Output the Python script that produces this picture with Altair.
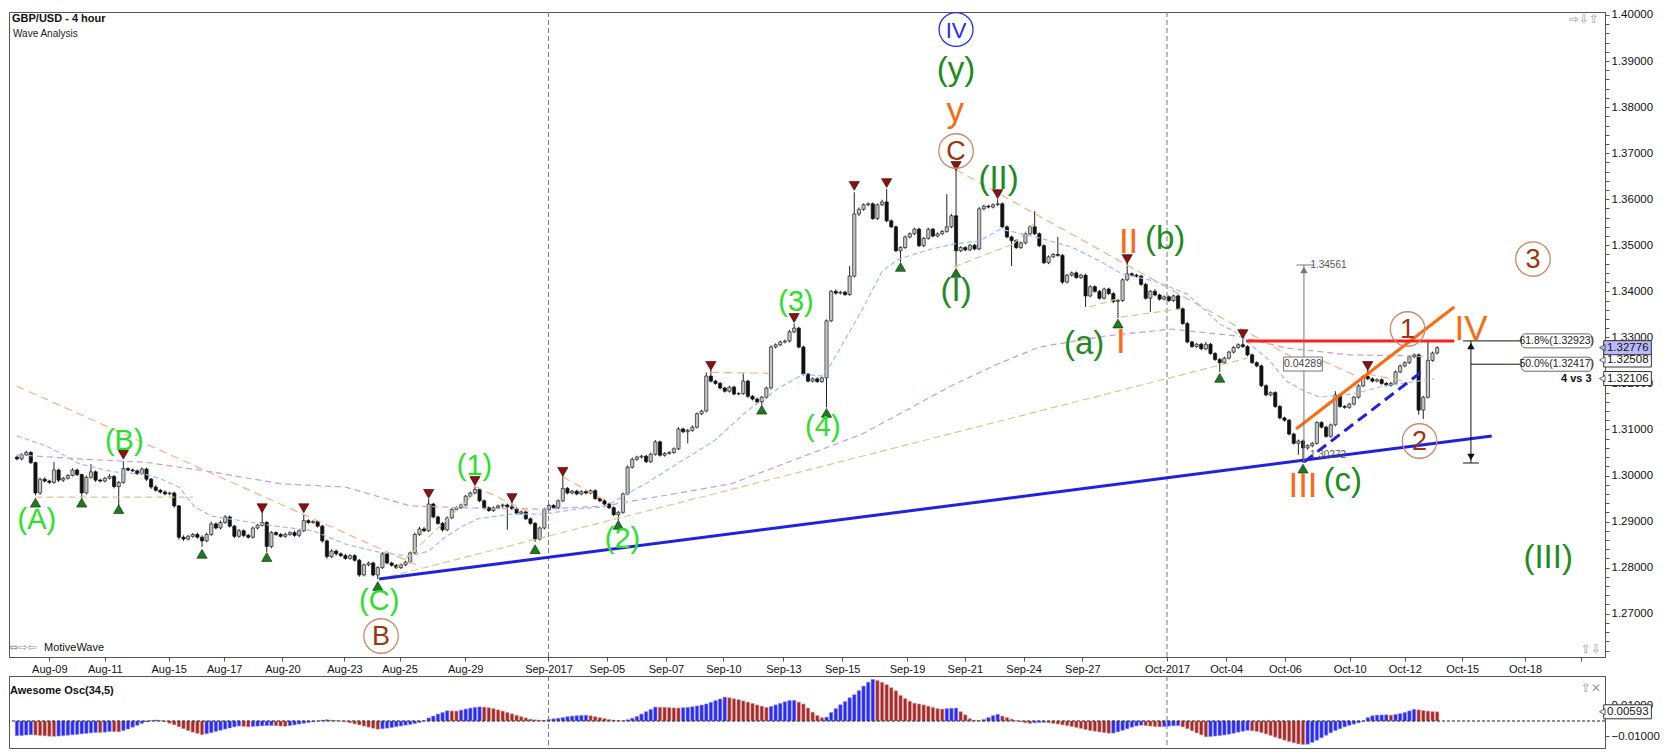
import altair as alt
import pandas as pd

FONT = "Liberation Sans"

# ---------------- candles (prices in pips, 1 pip = 0.0001) ----------------
first_open_pips = 13040
close_pips = [
 13036,13045,13050,13028,12962,12992,12988,12985,13012,12990,
 12994,13000,13012,13002,12962,12996,13008,12990,12988,12994,
 12998,12976,12985,13015,13012,13010,13004,13014,12992,12975,
 12968,12964,12960,12962,12934,12866,12862,12868,12872,12866,
 12858,12872,12895,12886,12898,12910,12890,12868,12880,12870,
 12866,12886,12892,12898,12846,12876,12872,12868,12872,12876,
 12870,12880,12902,12898,12900,12890,12858,12824,12836,12830,
 12826,12820,12826,12816,12784,12806,12810,12784,12800,12830,
 12810,12805,12800,12806,12812,12832,12872,12884,12880,12938,
 12910,12896,12882,12908,12926,12930,12936,12955,12962,12970,
 12945,12930,12924,12930,12934,12936,12932,12928,12918,12921,
 12906,12896,12862,12886,12926,12935,12930,12945,12972,12962,
 12966,12960,12965,12962,12967,12950,12945,12938,12930,12915,
 12920,12960,13018,13035,13040,13042,13030,13046,13073,13044,
 13048,13050,13058,13101,13095,13098,13105,13134,13140,13216,
 13205,13200,13190,13183,13192,13177,13178,13205,13172,13166,
 13160,13170,13190,13279,13284,13290,13292,13312,13320,13279,
 13220,13205,13210,13204,13212,13336,13400,13396,13398,13393,
 13433,13568,13578,13588,13590,13558,13588,13594,13553,13540,
 13488,13495,13518,13525,13535,13499,13515,13535,13520,13525,
 13530,13540,13564,13488,13495,13490,13500,13492,13579,13585,
 13583,13588,13590,13540,13518,13510,13495,13505,13525,13540,
 13525,13499,13462,13475,13480,13478,13420,13435,13440,13430,
 13435,13390,13410,13400,13385,13405,13395,13378,13380,13425,
 13438,13435,13433,13415,13385,13400,13392,13383,13388,13380,
 13390,13362,13330,13290,13280,13285,13275,13285,13265,13252,
 13245,13255,13268,13278,13284,13280,13262,13245,13238,13195,
 13175,13180,13150,13125,13120,13090,13070,13075,13060,13065,
 13070,13115,13105,13085,13110,13175,13150,13148,13155,13170,
 13195,13215,13210,13205,13208,13200,13196,13200,13225,13238,
 13245,13258,13262,13142,13170,13250,13266,13277.6]
wick_up = [
 3,3,4,3,2,3,4,3,17,3, 3,3,4,3,2,4,17,3,3,3, 5,3,3,16,3,3,3,4,3,3,
 4,3,4,3,3,2,4,3,3,4, 4,4,5,3,4,4,3,3,4,3, 3,3,3,25,3,3,3,3,4,3,
 4,3,14,3,3,3,3,3,4,3, 3,4,3,3,3,3,3,3,3,4, 3,3,3,3,3,3,4,5,4,11,
 3,3,3,3,3,3,3,3,3,7, 3,3,3,3,3,3,3,13,3,3, 3,3,3,3,4,3,3,3,31,3,
 3,3,3,3,3,3,3,3,3,3, 3,3,4,4,3,3,3,4,4,3, 3,3,3,4,3,3,4,3,3,8,
 14,3,3,3,3,3,3,17,3,3, 3,3,3,4,3,3,3,4,10,3, 3,3,3,3,3,3,3,4,3,3,
 22,47,4,3,3,3,3,5,28,3, 3,3,3,3,3,3,3,3,3,3, 3,71,4,101,3,3,3,3,4,3,
 3,3,10,3,3,3,3,3,3,3, 34,3,3,3,3,38,3,3,3,3, 3,3,3,3,3,3,3,3,3,3,
 24,3,3,3,3,3,5,3,3,3, 3,3,3,3,3,3,3,5,3,3, 3,3,3,3,3,12,3,3,3,3,
 3,3,3,3,3,3,3,3,3,3, 3,3,3,3,3,8,3,3,3,3, 3,3,15,3,3,3,3,3,3,3,
 3,3,3,3,3,40,3,3]
wick_dn = [
 3,3,2,3,5,4,3,3,3,4, 4,3,2,3,12,3,3,4,3,3, 3,4,42,3,3,2,3,3,4,4,
 3,3,3,3,4,5,4,3,3,3, 13,3,3,3,3,3,3,4,3,4, 3,3,3,3,12,4,3,3,3,3,
 3,4,3,3,3,3,4,5,3,4, 3,3,3,3,4,3,3,3,9,3, 3,3,3,3,3,3,3,3,3,3,
 3,3,4,3,3,3,3,3,3,3, 3,4,3,3,3,4,50,3,3,3, 3,3,6,3,3,3,3,3,3,3,
 3,3,3,3,3,3,3,3,3,3, 12,3,3,3,3,3,3,3,3,3, 3,3,3,3,3,25,3,3,3,3,
 3,3,3,3,3,3,3,3,3,3, 3,7,3,3,3,3,3,3,3,3, 3,3,3,3,3,64,3,3,3,3,
 3,3,5,3,3,3,3,3,3,3, 3,24,3,3,3,3,3,3,3,3, 3,3,3,36,3,3,3,3,3,3,
 3,3,3,3,3,55,3,3,3,3, 3,3,3,3,3,3,4,3,3,3, 3,24,3,3,3,3,3,4,36,3,
 3,3,3,3,3,30,3,3,3,3, 3,3,3,3,3,3,3,3,3,3, 20,3,3,3,3,3,3,3,3,3,
 3,3,3,3,3,3,3,25,33,4, 4,3,3,3,3,3,3,3,3,3, 3,3,3,3,3,3,3,3,3,3,
 3,3,3,10,19,3,3,3]
# Awesome Oscillator (34,5), units of 0.0001
ao_e4 = [
 -95,-93,-91,-89,-91,-94,-96,-98,-99,-97, -95,-92,-89,-86,-83,-80,-77,-74,-75,-72,
 -68,-69,-70,-62,-52,-40,-28,-16,-6,2, 6,3,-5,-15,-25,-38,-50,-62,-72,-80,
 -89,-82,-75,-67,-60,-52,-45,-38,-32,-35, -38,-35,-33,-31,-30,-29,-31,-33,-34,-30,
 -25,-20,-15,-10,-5,0,5,8,6,3, 0,-5,-12,-19,-26,-33,-40,-47,-53,-50,
 -46,-42,-37,-32,-27,-22,-17,-10,2,20, 32,45,55,66,65,64,70,77,83,88,
 91,90,86,80,72,64,55,46,37,28, 20,12,8,5,4,10,14,18,22,28,
 32,34,36,37,34,28,22,16,10,6, 3,2,8,18,30,45,60,75,90,89,
 88,87,85,84,86,88,92,97,103,110, 120,132,142,154,150,144,138,130,122,114,
 104,96,88,94,104,114,124,132,133,122, 110,84,57,36,21,25,55,80,105,125,
 150,170,196,225,250,268,262,250,235,215, 195,165,145,128,115,110,104,96,88,80,
 77,80,82,83,60,40,15,5,3,10, 22,35,43,32,22,12,2,-5,-12,-16,
 -12,-10,-9,-12,-16,-20,-25,-30,-36,-42, -48,-55,-61,-66,-71,-75,-79,-78,-70,-60,
 -50,-40,-32,-27,-30,-33,-36,-38,-36,-33, -31,-30,-38,-50,-63,-77,-90,-102,-100,-97,
 -94,-90,-85,-79,-72,-66,-60,-63,-68,-75, -84,-94,-104,-114,-124,-133,-141,-148,-152,-150,
 -138,-124,-108,-92,-76,-62,-50,-38,-28,-20, -12,-3,22,34,38,39,40,38,42,48,
 55,65,75,72,68,64,61,59]

# ---------------- axis ticks (bar index positions) ----------------
date_tick_pos = [7.0, 19.0, 32.8, 44.8, 57.4, 70.8, 82.7, 96.9, 114.9, 127.5, 140.3, 152.7, 165.7,
                 178.4, 192.4, 204.9, 217.6, 230.3, 248.6, 261.4, 274.1, 288.1, 300.0, 312.4, 326.0, 338.0]
date_tick_lab = ['Aug-09', 'Aug-11', 'Aug-15', 'Aug-17', 'Aug-20', 'Aug-23', 'Aug-25', 'Aug-29', 'Sep-2017',
                 'Sep-05', 'Sep-07', 'Sep-10', 'Sep-13', 'Sep-15', 'Sep-19', 'Sep-21', 'Sep-24', 'Sep-27',
                 'Oct-2017', 'Oct-04', 'Oct-06', 'Oct-10', 'Oct-12', 'Oct-15', 'Oct-18', '']
price_tick_vals = [round(1.262 + 0.002 * k, 3) for k in range(70)]
osc_tick_vals = [-0.01, 0.01]

# ---------------- moving averages ----------------
ma_fast_i = [0, 6.4, 13.6, 20.7, 27.7, 31.3, 35, 38.4, 42, 49, 56, 64, 71, 78, 85, 89, 92.5, 96, 99.6, 106.6,
             113.8, 121, 127, 136.5, 143.6, 150.7, 157.8, 165, 170, 174, 176, 179, 183, 187, 190.6, 197.7,
             202.6, 208, 212.6, 215.4, 221, 228, 234, 238.8, 246, 253, 260, 263.7, 270.8, 274.4, 278, 281.6,
             288.7, 295.7, 306.4]
ma_fast_p = [1.3086, 1.3064, 1.3025, 1.3008, 1.3003, 1.2992, 1.2975, 1.2932, 1.2912, 1.2901, 1.2890, 1.2880,
             1.2851, 1.2834, 1.2825, 1.2836, 1.2866, 1.2888, 1.2906, 1.2916, 1.2916, 1.2927, 1.2932, 1.2986,
             1.3031, 1.3075, 1.3140, 1.3192, 1.3220, 1.3216, 1.3242, 1.3295, 1.3365, 1.3444, 1.3470, 1.3492,
             1.3503, 1.3509, 1.3535, 1.3529, 1.3516, 1.3496, 1.3466, 1.3438, 1.3422, 1.3394, 1.3329, 1.3310,
             1.3249, 1.3205, 1.3185, 1.3170, 1.3177, 1.3195, 1.3210]
ma_slow_i = [0, 13.6, 27.7, 42, 57, 71, 85, 99.6, 114, 127, 154.4, 182.7, 191, 202, 212, 221, 235.4, 249.5,
             263.7, 274.4, 288, 300.6, 307]
ma_slow_p = [1.3045, 1.3036, 1.3029, 1.3008, 1.2982, 1.2975, 1.2934, 1.2929, 1.2927, 1.2934, 1.2982, 1.3090,
             1.3135, 1.3195, 1.3242, 1.3279, 1.3303, 1.3318, 1.3303, 1.3277, 1.3262, 1.3260, 1.3256]

# ---------------- drawn lines: (start bar, start price, end bar, end price) ----------------
khaki_seg = [(4, 1.2953, 38, 1.2953), (78.3, 1.2775, 266, 1.3255), (82, 1.2800, 99, 1.2962),
             (202.6, 1.3453, 215.4, 1.3503), (215.4, 1.3503, 220.5, 1.3553),
             (231.8, 1.3366, 237.7, 1.3383), (238.6, 1.3344, 251.6, 1.3362)]
peach_seg = [(0, 1.3194, 87.4, 1.2801), (98.9, 1.2977, 111.7, 1.2916), (118, 1.2997, 127.3, 1.2945),
             (150, 1.3224, 162.5, 1.3222), (203, 1.3664, 276, 1.3255), (282.3, 1.3249, 290, 1.3214),
             (292, 1.3220, 300, 1.3205)]
blue_solid_seg = [(78.3, 1.27752, 318.8, 1.30858)]
blue_dash_seg = [(278.2, 1.30293, 303.6, 1.32248)]
orange_seg = [(276.5, 1.31010, 310.7, 1.33659)]
red_seg = [(265.7, 1.32923, 310.7, 1.32923)]
fib_seg = [(312.6, 1.32923, 325.2, 1.32923), (314.3, 1.32417, 325.2, 1.32417),
           (314.3, 1.30272, 314.3, 1.32923), (312.6, 1.30272, 316.0, 1.30272)]
measure_seg = [(278.2, 1.30272, 278.2, 1.34571), (276.6, 1.34571, 280.4, 1.34571)]

# ---------------- pivot markers ----------------
red_tri_i = [23, 53, 62, 89, 99, 107, 118, 150, 168, 181, 188, 203, 212, 240, 265, 292]
red_tri_p = [1.3045, 1.2929, 1.2929, 1.2960, 1.2988, 1.2951, 1.3008, 1.3238, 1.3342, 1.3629, 1.3635,
             1.3672, 1.3611, 1.3470, 1.3307, 1.3238]
green_tri_i = [4, 14, 22, 40, 54, 78, 112, 130, 161, 175, 191, 203, 238, 260, 278]
green_tri_p = [1.2941, 1.2941, 1.2927, 1.2830, 1.2823, 1.2760, 1.2840, 1.2893, 1.3143, 1.3136, 1.3453,
               1.3440, 1.3330, 1.3212, 1.3015]

# ---------------- wave labels ----------------
BRIGHT, DARK, ORANGE = '#2ae02a', '#1e8c1e', '#ff6a10'
wave_text = ['(A)', '(B)', '(C)', '(1)', '(2)', '(3)', '(4)',
             '(y)', '(II)', '(I)', '(b)', '(a)', '(c)', '(III)',
             'y', 'II', 'I', 'III', 'IV']
wave_i = [4.3, 23.2, 78.3, 98.9, 130.9, 168.4, 174.2,
          203.0, 212.2, 203.0, 248.2, 230.7, 286.6, 331.0,
          202.8, 240.3, 238.6, 278.0, 314.3]
wave_p = [1.2903, 1.3075, 1.2728, 1.3021, 1.2862, 1.3377, 1.3105,
          1.3881, 1.3644, 1.3401, 1.3514, 1.3286, 1.2988, 1.2821,
          1.3792, 1.3507, 1.3290, 1.2977, 1.3318]
wave_col = [BRIGHT] * 7 + [DARK] * 7 + [ORANGE] * 5
wave_fs = [29] * 7 + [33] * 7 + [35] * 5
circ_text = ['C', 'B', '1', '2', '3']
circ_i = [203.0, 78.7, 300.6, 303.2, 327.7]
circ_p = [1.37047, 1.26515, 1.33181, 1.30749, 1.34701]
blue_circ_text, blue_circ_i, blue_circ_p = ['IV'], [203.0], [1.39685]

# ---------------- price tags / boxes ----------------
tag_p = [1.32106, 1.32508, 1.32776]
tag_fill = ['#ffffff', '#ffffff', '#b7baf7']
fib_box_p = [1.32923, 1.32417]
fib_box_lab = ['61.8%(1.32923)', '50.0%(1.32417)']
osc_tag_val = [0.00593]

# ======================================================================
n = min(len(close_pips), len(wick_up), len(wick_dn), len(ao_e4))
opens = [first_open_pips] + close_pips[:n - 1]
rows, prev = [], None
for k in range(n):
    o, c = opens[k], close_pips[k]
    ao = ao_e4[k] / 1e4
    rows.append({'i': k, 'open': o / 1e4, 'close': c / 1e4,
                 'high': (max(o, c) + wick_up[k]) / 1e4, 'low': (min(o, c) - wick_dn[k]) / 1e4,
                 'up': bool(c >= o), 'ao': ao, 'zero': 0.0,
                 'rising': True if prev is None else bool(ao >= prev)})
    prev = ao
bars = pd.DataFrame(rows)

W, H_MAIN, H_OSC = 1596, 645, 72
xsc = alt.Scale(domain=[-0.64, 342.2], nice=False, zero=False)
ysc = alt.Scale(domain=[1.26059, 1.400651], nice=False, zero=False)
osc_sc = alt.Scale(domain=[-0.01742, 0.02903], nice=False, zero=False)
PX = (1.400651 - 1.26059) / H_MAIN  # price per pixel
OPX = (0.02903 + 0.01742) / H_OSC

pos_js = '[' + ','.join(str(v) for v in date_tick_pos) + ']'
lab_js = '[' + ','.join("'" + s + "'" for s in date_tick_lab) + ']'
x_axis = alt.Axis(values=date_tick_pos, labelExpr=lab_js + '[indexof(' + pos_js + ', datum.value)]',
                  title=None, grid=False, tickSize=4, labelFontSize=11, labelPadding=2, labelFont=FONT,
                  labelColor='#111', labelOverlap=False, labelBound=False, labelFlush=False,
                  domainColor='#555', tickColor='#555')
y_axis = alt.Axis(orient='right', values=price_tick_vals,
                  labelExpr="abs(datum.value*100 - round(datum.value*100)) < 0.01 ? format(datum.value, '.5f') : ''",
                  title=None, grid=False, tickSize=4, labelFontSize=11.5, labelPadding=2, labelFont=FONT,
                  labelColor='#111', labelOverlap=False, labelBound=False, labelFlush=False,
                  domainColor='#555', tickColor='#555')
o_axis = alt.Axis(orient='right', values=osc_tick_vals, format='.5f', title=None, grid=False, tickSize=4,
                  labelFontSize=11.5, labelPadding=2, labelFont=FONT, labelColor='#111',
                  labelOverlap=False, labelBound=False, labelFlush=False, domainColor='#555', tickColor='#555')


def X(f):
    return alt.X(f + ':Q', scale=xsc, axis=x_axis)


def Y(f):
    return alt.Y(f + ':Q', scale=ysc, axis=y_axis)


def segs(lst, **mk):
    d = pd.DataFrame(lst, columns=['x0', 'p0', 'x1', 'p1'])
    return alt.Chart(d).mark_rule(**mk).encode(x=X('x0'), x2='x1:Q', y=Y('p0'), y2='p1:Q')


month_pos = [p for p, l in zip(date_tick_pos, date_tick_lab) if l.endswith('2017')]

layers = []
# candles first (wicks then bodies)
layers.append(alt.Chart(bars).mark_rule(color='#222', strokeWidth=1).encode(
    x=X('i'), y=Y('low'), y2='high:Q'))
layers.append(alt.Chart(bars).mark_bar(size=3.2, strokeWidth=0.7).encode(
    x=X('i'), y=Y('open'), y2='close:Q',
    fill=alt.condition('datum.up', alt.value('#c4c4c4'), alt.value('#111111')),
    stroke=alt.condition('datum.up', alt.value('#222222'), alt.value('#111111'))))
layers.append(alt.Chart(pd.DataFrame({'m': month_pos})).mark_rule(
    color='#777', strokeDash=[5, 3], strokeWidth=1).encode(x=X('m')))
layers.append(alt.Chart(pd.DataFrame({'i': ma_slow_i, 'p': ma_slow_p})).mark_line(
    color='#c99ad6', strokeDash=[6, 4], strokeWidth=1.2).encode(x=X('i'), y=Y('p')))
layers.append(alt.Chart(pd.DataFrame({'i': ma_fast_i, 'p': ma_fast_p})).mark_line(
    color='#9dbcf6', strokeDash=[5, 3], strokeWidth=1.2).encode(x=X('i'), y=Y('p')))
layers.append(segs(khaki_seg, color='#d3c993', strokeDash=[7, 4], strokeWidth=1.2))
layers.append(segs(peach_seg, color='#f7b286', strokeDash=[8, 5], strokeWidth=1.2))

# trend lines
layers.append(segs(blue_solid_seg, color='#2222dd', strokeWidth=3))
layers.append(segs(blue_dash_seg, color='#2222dd', strokeWidth=3, strokeDash=[11, 6]))
layers.append(segs(orange_seg, color='#ff6a10', strokeWidth=3))
layers.append(segs(red_seg, color='#ff1f1f', strokeWidth=3))
layers.append(segs(fib_seg, color='#111', strokeWidth=1))
layers.append(segs(measure_seg, color='#777', strokeWidth=1))

# arrowheads
layers.append(alt.Chart(pd.DataFrame({'i': [314.3], 'p': [1.32812]})).mark_point(
    shape='triangle-up', filled=True, size=55, color='#111', opacity=1).encode(x=X('i'), y=Y('p')))
layers.append(alt.Chart(pd.DataFrame({'i': [314.3], 'p': [1.30402]})).mark_point(
    shape='triangle-down', filled=True, size=55, color='#111', opacity=1).encode(x=X('i'), y=Y('p')))
layers.append(alt.Chart(pd.DataFrame({'i': [278.2], 'p': [1.34463]})).mark_point(
    shape='triangle-up', filled=True, size=55, color='#777', opacity=1).encode(x=X('i'), y=Y('p')))

# pivot triangles
layers.append(alt.Chart(pd.DataFrame({'i': red_tri_i, 'p': red_tri_p})).mark_point(
    shape='triangle-down', filled=True, size=105, fill='#8b1111', stroke='#2a0000', strokeWidth=0.6,
    opacity=1).encode(x=X('i'), y=Y('p')))
layers.append(alt.Chart(pd.DataFrame({'i': green_tri_i, 'p': green_tri_p})).mark_point(
    shape='triangle-up', filled=True, size=105, fill='#1f7a1f', stroke='#0a2a0a', strokeWidth=0.6,
    opacity=1).encode(x=X('i'), y=Y('p')))

# small measurement texts
layers.append(alt.Chart(pd.DataFrame({'i': [279.6, 279.5], 'p': [1.34561, 1.30445],
                                      't': ['1.34561', '1.30272']})).mark_text(
    font=FONT, fontSize=10, color='#555', align='left', baseline='middle').encode(
    x=X('i'), y=Y('p'), text='t:N'))
box = pd.DataFrame({'xa': [273.8], 'xb': [282.2], 'pa': [1.32421 - 7 * PX], 'pb': [1.32421 + 7 * PX],
                    'xc': [278.0], 'pc': [1.32421], 't': ['0.04289']})
layers.append(alt.Chart(box).mark_rect(fill='white', stroke='#777', strokeWidth=1).encode(
    x=X('xa'), x2='xb:Q', y=Y('pa'), y2='pb:Q'))
layers.append(alt.Chart(box).mark_text(font=FONT, fontSize=10.5, color='#444').encode(
    x=X('xc'), y=Y('pc'), text='t:N'))

# wave labels
layers.append(alt.Chart(pd.DataFrame({'t': wave_text, 'i': wave_i, 'p': wave_p, 'c': wave_col,
                                      'fs': wave_fs})).mark_text(
    font=FONT, align='center', baseline='middle').encode(
    x=X('i'), y=Y('p'), text='t:N', color=alt.Color('c:N', scale=None), size=alt.Size('fs:Q', scale=None)))
circ = pd.DataFrame({'t': circ_text, 'i': circ_i, 'p': circ_p})
layers.append(alt.Chart(circ).mark_point(shape='circle', filled=False, size=1190, color='#c98a6e',
                                         strokeWidth=1.3, opacity=1).encode(x=X('i'), y=Y('p')))
layers.append(alt.Chart(circ).mark_text(font=FONT, fontSize=27, color='#9a3510', baseline='middle',
                                        dy=1).encode(x=X('i'), y=Y('p'), text='t:N'))
bcirc = pd.DataFrame({'t': blue_circ_text, 'i': blue_circ_i, 'p': blue_circ_p})
layers.append(alt.Chart(bcirc).mark_point(shape='circle', filled=False, size=1150, color='#2a2af0',
                                          strokeWidth=1.3, opacity=1).encode(x=X('i'), y=Y('p')))
layers.append(alt.Chart(bcirc).mark_text(font=FONT, fontSize=22, color='#2a2af0', baseline='middle',
                                         dy=1).encode(x=X('i'), y=Y('p'), text='t:N'))

# fib boxes
fb = pd.DataFrame({'xa': [325.2] * 2, 'xb': [340.5] * 2, 'xc': [332.85] * 2,
                   'pa': [p - 7 * PX for p in fib_box_p], 'pb': [p + 7 * PX for p in fib_box_p],
                   'pc': fib_box_p, 't': fib_box_lab})
layers.append(alt.Chart(fb).mark_rect(fill='white', stroke='#666', strokeWidth=1, cornerRadius=4).encode(
    x=X('xa'), x2='xb:Q', y=Y('pa'), y2='pb:Q'))
layers.append(alt.Chart(fb).mark_text(font=FONT, fontSize=10.5, color='#222').encode(
    x=X('xc'), y=Y('pc'), text='t:N'))

# price tags on the axis
tg = pd.DataFrame({'xa': [343.0] * 3, 'xb': [353.3] * 3, 'xc': [348.2] * 3, 'xp': [342.7] * 3,
                   'pa': [p - 7 * PX for p in tag_p], 'pb': [p + 7 * PX for p in tag_p], 'pc': tag_p,
                   'f': tag_fill, 't': ['%.5f' % p for p in tag_p], 'o': [0, 1, 2]})
layers.append(alt.Chart(tg).mark_rect(stroke='#333', strokeWidth=1).encode(
    x=X('xa'), x2='xb:Q', y=Y('pa'), y2='pb:Q', fill=alt.Color('f:N', scale=None), order='o:Q'))
layers.append(alt.Chart(tg).mark_point(shape='triangle-left', filled=True, size=40, stroke='#333',
                                       strokeWidth=0.8, opacity=1).encode(
    x=X('xp'), y=Y('pc'), fill=alt.Color('f:N', scale=None)))
layers.append(alt.Chart(tg).mark_text(font=FONT, fontSize=11.5, color='#111').encode(
    x=X('xc'), y=Y('pc'), text='t:N'))
layers.append(alt.Chart(pd.DataFrame({'i': [340.4], 'p': [tag_p[0]], 't': ['4 vs 3']})).mark_text(
    font=FONT, fontSize=11, fontWeight='bold', color='#111', align='right', baseline='middle').encode(
    x=X('i'), y=Y('p'), text='t:N'))

# header texts and icons
layers.append(alt.Chart(pd.DataFrame({'t': ['GBP/USD - 4 hour']})).mark_text(
    font=FONT, fontSize=11, fontWeight='bold', color='#111', align='left', baseline='middle').encode(
    x=alt.value(3), y=alt.value(7), text='t:N'))
layers.append(alt.Chart(pd.DataFrame({'t': ['Wave Analysis']})).mark_text(
    font=FONT, fontSize=10, color='#222', align='left', baseline='middle').encode(
    x=alt.value(4), y=alt.value(22), text='t:N'))
layers.append(alt.Chart(pd.DataFrame({'t': ['\u21e8\u21e9\u21e7']})).mark_text(
    font='DejaVu Sans', fontSize=12, color='#999', align='right', baseline='middle').encode(
    x=alt.value(1590), y=alt.value(7), text='t:N'))
layers.append(alt.Chart(pd.DataFrame({'t': ['\u21e7\u21e9']})).mark_text(
    font='DejaVu Sans', fontSize=12, color='#999', align='right', baseline='middle').encode(
    x=alt.value(1592), y=alt.value(637), text='t:N'))
layers.append(alt.Chart(pd.DataFrame({'t': ['\u21d4\u21e8\u21e6']})).mark_text(
    font='DejaVu Sans', fontSize=11, color='#999', align='left', baseline='middle').encode(
    x=alt.value(0), y=alt.value(636), text='t:N'))
layers.append(alt.Chart(pd.DataFrame({'t': ['MotiveWave']})).mark_text(
    font=FONT, fontSize=11, color='#111', align='left', baseline='middle').encode(
    x=alt.value(35), y=alt.value(636), text='t:N'))

main = alt.layer(*layers).properties(width=W, height=H_MAIN)

# ---------------- oscillator panel ----------------
OX = lambda f: alt.X(f + ':Q', scale=xsc, axis=None)
OY = lambda f: alt.Y(f + ':Q', scale=osc_sc, axis=o_axis)
olayers = []
olayers.append(alt.Chart(bars).mark_bar(size=3.4, strokeWidth=0.6).encode(
    x=OX('i'), y=OY('ao'), y2='zero:Q',
    fill=alt.condition('datum.rising', alt.value('#2a2af5'), alt.value('#a52a2a')),
    stroke=alt.condition('datum.rising', alt.value('#8f8ff8'), alt.value('#e2a2a2'))))
olayers.append(alt.Chart(pd.DataFrame({'m': month_pos})).mark_rule(
    color='#777', strokeDash=[5, 3], strokeWidth=1).encode(x=OX('m')))
olayers.append(alt.Chart(pd.DataFrame({'z': [0.0]})).mark_rule(
    color='#222', strokeDash=[3, 2], strokeWidth=1).encode(y=OY('z')))
ot = pd.DataFrame({'xa': [343.0], 'xb': [353.3], 'xc': [348.2], 'xp': [342.7],
                   'pa': [osc_tag_val[0] - 7 * OPX], 'pb': [osc_tag_val[0] + 7 * OPX], 'pc': osc_tag_val,
                   't': ['%.5f' % osc_tag_val[0]]})
olayers.append(alt.Chart(ot).mark_rect(fill='white', stroke='#333', strokeWidth=1).encode(
    x=OX('xa'), x2='xb:Q', y=OY('pa'), y2='pb:Q'))
olayers.append(alt.Chart(ot).mark_point(shape='triangle-left', filled=True, size=40, fill='white',
                                        stroke='#333', strokeWidth=0.8, opacity=1).encode(x=OX('xp'), y=OY('pc')))
olayers.append(alt.Chart(ot).mark_text(font=FONT, fontSize=11.5, color='#111').encode(
    x=OX('xc'), y=OY('pc'), text='t:N'))
olayers.append(alt.Chart(pd.DataFrame({'t': ['Awesome Osc(34,5)']})).mark_text(
    font=FONT, fontSize=11, fontWeight='bold', color='#111', align='left', baseline='middle').encode(
    x=alt.value(1), y=alt.value(15), text='t:N'))
olayers.append(alt.Chart(pd.DataFrame({'t': ['\u21e7\u2715']})).mark_text(
    font='DejaVu Sans', fontSize=12, color='#999', align='right', baseline='middle').encode(
    x=alt.value(1592), y=alt.value(12), text='t:N'))
osc = alt.layer(*olayers).properties(width=W, height=H_OSC)

chart = alt.vconcat(main, osc, spacing=0).properties(padding=0, background='white').configure_view(
    stroke='#555', strokeWidth=1)

chart.save("out.html", embed_options={"renderer": "svg", "actions": False})
